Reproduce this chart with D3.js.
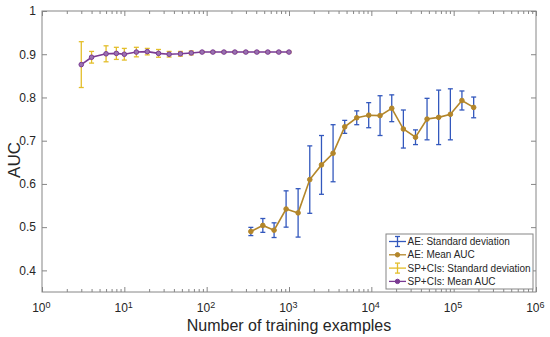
<!DOCTYPE html>
<html>
<head>
<meta charset="utf-8">
<title>AUC vs training examples</title>
<script src="https://cdn.jsdelivr.net/npm/d3@7"></script>
<style>
  body { margin: 0; background: #fff; }
  text { font-family: "Liberation Sans", Arial, sans-serif; fill: #262626; }
</style>
</head>
<body>
<script>
var w = 550, h = 337;

//// data
var spN    = [3, 4, 6, 8, 10, 14, 19, 26, 35, 48, 65, 88, 119, 162, 220, 299, 407, 553, 752, 1000];
var spMean = [0.876, 0.893, 0.901, 0.902, 0.900, 0.905, 0.906, 0.902, 0.900, 0.901,
              0.903, 0.905, 0.905, 0.905, 0.905, 0.905, 0.905, 0.905, 0.905, 0.905];
var spSd   = [0.053, 0.0135, 0.0185, 0.014, 0.0135, 0.011, 0.0075, 0.009, 0.0065, 0.0055,
              0.0045, 0.002, 0.002, 0.002, 0.002, 0.002, 0.002, 0.002, 0.002, 0.002];

var aeN    = [344, 481, 659, 922, 1290, 1788, 2480, 3430, 4750, 6650,
              9290, 12760, 17700, 24500, 34400, 47500, 65700, 91200, 126000, 175000];
var aeMean = [0.490, 0.504, 0.493, 0.542, 0.533, 0.610, 0.644, 0.671, 0.732, 0.753,
              0.759, 0.758, 0.775, 0.727, 0.708, 0.750, 0.754, 0.761, 0.793, 0.777];
var aeSd   = [0.0095, 0.016, 0.017, 0.042, 0.056, 0.078, 0.068, 0.066, 0.015, 0.016,
              0.029, 0.046, 0.031, 0.044, 0.017, 0.048, 0.063, 0.059, 0.022, 0.024];

var yTicks = [0.4, 0.5, 0.6, 0.7, 0.8, 0.9, 1];
var xTicks = [1, 10, 100, 1000, 10000, 100000, 1000000];
var legendLabels = ["AE: Standard deviation", "AE: Mean AUC",
                    "SP+CIs: Standard deviation", "SP+CIs: Mean AUC"];

var colAeSd = "#3358bd", colAeMean = "#b3862a";
var colSpSd = "#e3be2a", colSpMean = "#7a3a92";

var pL = 42, pR = 536, pT = 11, pB = 292;

var svg = d3.select("body").append("svg")
  .attr("width", w).attr("height", h);

var x = d3.scaleLog().domain([1, 1e6]).range([pL, pR]);
var y = d3.scaleLinear().domain([0.35, 1]).range([pB, pT]);

//// axes (box, ticks inward)
var minor = x.ticks().filter(function(d) { return xTicks.indexOf(d) < 0; });
var axCol = "#868686";

function styleAxis(g) {
  g.select(".domain").remove();
  g.selectAll(".tick line").attr("stroke", axCol);
}

svg.append("g").attr("transform", "translate(0," + pB + ")")
  .call(d3.axisBottom(x).tickValues(minor).tickSize(-3).tickFormat(""))
  .call(styleAxis);
svg.append("g").attr("transform", "translate(0," + pT + ")")
  .call(d3.axisTop(x).tickValues(minor).tickSize(-3).tickFormat(""))
  .call(styleAxis);
svg.append("g").attr("transform", "translate(0," + pT + ")")
  .call(d3.axisTop(x).tickValues(xTicks).tickSize(-5).tickFormat(""))
  .call(styleAxis);

var xAxis = svg.append("g").attr("transform", "translate(0," + pB + ")")
  .call(d3.axisBottom(x).tickValues(xTicks).tickSize(-5).tickPadding(8))
  .call(styleAxis);
xAxis.selectAll(".tick text").each(function(d) {
  var t = d3.select(this).text("")
    .attr("font-size", 12).attr("dy", "1em").attr("dx", "-0.1em");
  t.append("tspan").text("10");
  t.append("tspan").attr("dy", "-0.45em").attr("font-size", 9)
    .text(Math.round(Math.log10(d)));
});

svg.append("g").attr("transform", "translate(" + pL + ",0)")
  .call(d3.axisLeft(y).tickValues(yTicks).tickSize(-5).tickPadding(6)
    .tickFormat(function(d) { return d === 1 ? "1" : d3.format(".1f")(d); }))
  .call(styleAxis)
  .selectAll("text").attr("font-size", 12);
svg.append("g").attr("transform", "translate(" + pR + ",0)")
  .call(d3.axisRight(y).tickValues(yTicks).tickSize(-5).tickFormat(""))
  .call(styleAxis);

svg.append("rect")
  .attr("x", pL).attr("y", pT)
  .attr("width", pR - pL).attr("height", pB - pT)
  .attr("fill", "none").attr("stroke", axCol).attr("stroke-width", 1);

//// labels
svg.append("text")
  .attr("x", (pL + pR) / 2).attr("y", 331)
  .attr("text-anchor", "middle").attr("font-size", 16)
  .text("Number of training examples");
svg.append("text")
  .attr("transform", "translate(20,160) rotate(-90)")
  .attr("text-anchor", "middle").attr("font-size", 17)
  .text("AUC");

//// series
function errorBars(ns, means, sds, color) {
  var g = svg.append("g").attr("stroke", color).attr("stroke-width", 1.3);
  ns.forEach(function(n, i) {
    var cx = x(n), y0 = y(means[i] - sds[i]), y1 = y(means[i] + sds[i]);
    g.append("line").attr("x1", cx).attr("x2", cx).attr("y1", y0).attr("y2", y1);
    g.append("line").attr("x1", cx - 2.5).attr("x2", cx + 2.5).attr("y1", y0).attr("y2", y0);
    g.append("line").attr("x1", cx - 2.5).attr("x2", cx + 2.5).attr("y1", y1).attr("y2", y1);
  });
}

function meanLine(ns, means, color, fill) {
  var pts = ns.map(function(n, i) { return [n, means[i]]; });
  svg.append("path")
    .attr("d", d3.line().x(function(d) { return x(d[0]); }).y(function(d) { return y(d[1]); })(pts))
    .attr("fill", "none").attr("stroke", color).attr("stroke-width", 1.6);
  svg.append("g").selectAll("circle").data(pts).enter().append("circle")
    .attr("cx", function(d) { return x(d[0]); })
    .attr("cy", function(d) { return y(d[1]); })
    .attr("r", 2.3)
    .attr("fill", fill).attr("stroke", color).attr("stroke-width", 1);
}

errorBars(aeN, aeMean, aeSd, colAeSd);
meanLine(aeN, aeMean, colAeMean, colAeMean);
errorBars(spN, spMean, spSd, colSpSd);
meanLine(spN, spMean, colSpMean, "#9a72b0");

//// legend
var lg = svg.append("g").attr("transform", "translate(386,234)");
lg.append("rect").attr("width", 147).attr("height", 55)
  .attr("fill", "#fff").attr("stroke", axCol).attr("stroke-width", 1);
var colors = [colAeSd, colAeMean, colSpSd, colSpMean];
legendLabels.forEach(function(lab, i) {
  var cy = 7.5 + i * 13.3;
  var row = lg.append("g").attr("transform", "translate(0," + cy + ")");
  row.append("line").attr("x1", 3).attr("x2", 20).attr("y1", 0).attr("y2", 0)
    .attr("stroke", colors[i]).attr("stroke-width", 1.3);
  if (i % 2 === 0) {
    row.append("line").attr("x1", 11.5).attr("x2", 11.5).attr("y1", -5).attr("y2", 5)
      .attr("stroke", colors[i]).attr("stroke-width", 1.3);
    [-5, 5].forEach(function(v) {
      row.append("line").attr("x1", 9).attr("x2", 14).attr("y1", v).attr("y2", v)
        .attr("stroke", colors[i]).attr("stroke-width", 1.3);
    });
  } else {
    row.append("circle").attr("cx", 11.5).attr("cy", 0).attr("r", 2.2)
      .attr("fill", colors[i]).attr("stroke", colors[i]);
  }
  row.append("text").attr("x", 21.5).attr("y", 0).attr("dy", "0.35em")
    .attr("font-size", 10).text(lab);
});
</script>
</body>
</html>
